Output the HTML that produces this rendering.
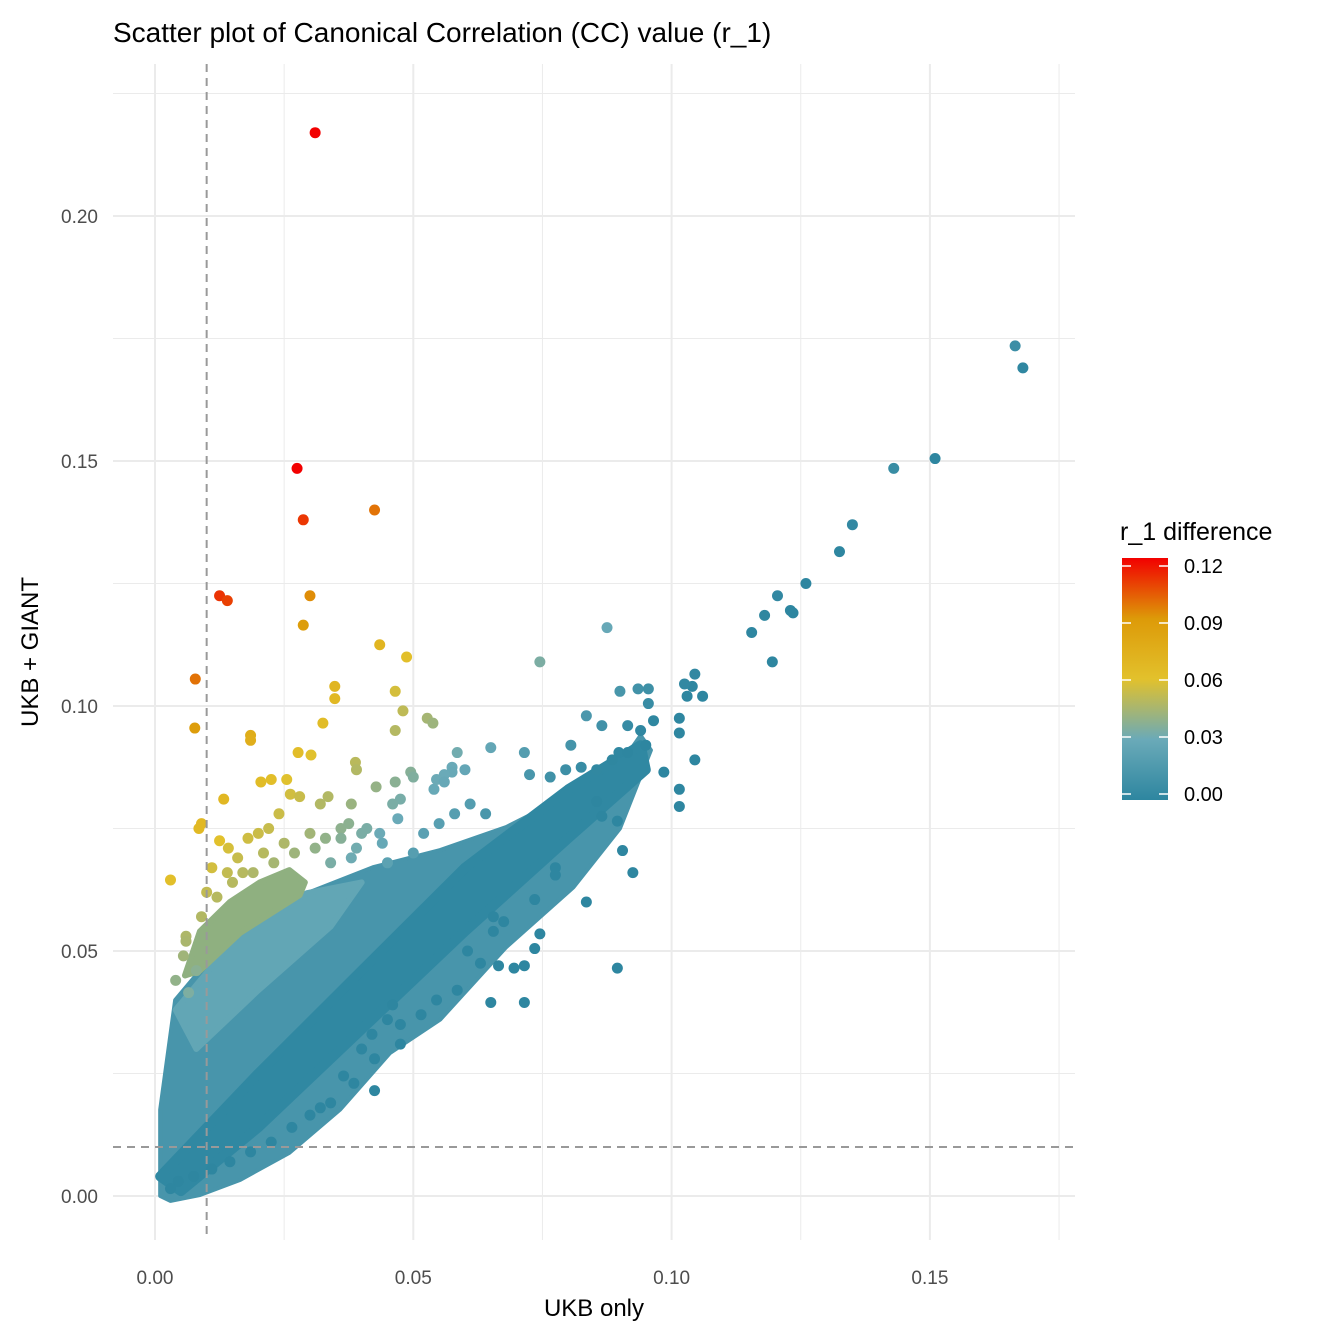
<!DOCTYPE html>
<html><head><meta charset="utf-8">
<style>
html,body{margin:0;padding:0;background:#fff;}
svg{display:block;font-family:"Liberation Sans",Arial,sans-serif;}
</style></head>
<body>
<svg id="chart" width="1338" height="1338" viewBox="0 0 1338 1338">
<defs>
<linearGradient id="cbar" x1="0" y1="1" x2="0" y2="0">
<stop offset="0" stop-color="#2e86a0"/>
<stop offset="0.25" stop-color="#6aaab8"/>
<stop offset="0.5" stop-color="#e2c12c"/>
<stop offset="0.75" stop-color="#dd9a08"/>
<stop offset="1" stop-color="#f20000"/>
</linearGradient>
</defs>
<text x="113" y="42" font-size="28" fill="#000">Scatter plot of Canonical Correlation (CC) value (r_1)</text>
<g id="grid"></g>
<g id="cloud"></g>
<g id="pts"></g>
<g id="ref"></g>
<g id="axes"></g>
<text x="594" y="1316" font-size="24" text-anchor="middle" fill="#000">UKB only</text>
<text x="0" y="0" font-size="24" text-anchor="middle" fill="#000" transform="translate(38,652) rotate(-90)">UKB + GIANT</text>
<g id="legend">
<text x="1120" y="540" font-size="25" fill="#000">r_1 difference</text>
<rect x="1122" y="558" width="46" height="242" fill="url(#cbar)"/>
</g>
</svg>
<script>
const xTicks=[0,0.05,0.10,0.15];
const xTickLabels=["0.00","0.05","0.10","0.15"];
const yTicks=[0,0.05,0.10,0.15,0.20];
const yTickLabels=["0.00","0.05","0.10","0.15","0.20"];
const legendTicks=[0,0.03,0.06,0.09,0.12];
const legendTickLabels=["0.00","0.03","0.06","0.09","0.12"];
const refX=0.01, refY=0.01;
const ptX=[0.031,0.0275,0.0287,0.0425,0.0125,0.014,0.030,0.0287,0.0078,0.0077,0.0435,0.0487,0.0348,0.0348,0.0465,0.048,0.0527,0.0538,0.0465,0.0325,0.0185,0.0185,0.0277,0.0302,0.0388,0.039,0.0205,0.0225,0.0255,0.0262,0.028,0.0335,0.032,0.0133,0.0465,0.0428,0.0085,0.009,0.003,0.011,0.0125,0.018,0.020,0.022,0.024,0.038,0.036,0.0142,0.016,0.017,0.006,0.0055,0.008,0.004,0.0065,0.0895,
0.1665,0.168,0.143,0.151,0.135,0.1325,0.126,0.1205,0.123,0.1235,0.118,0.1155,0.1195,0.0875,0.0745,0.1045,0.106,0.104,0.1025,0.103,0.090,0.0935,0.0955,0.0955,0.0965,0.1015,0.1015,0.1045,0.1015,0.1015,0.0985,0.0865,0.0915,0.094,0.0835,0.0805,0.095,0.0898,0.0915,0.0885,0.0855,0.0825,0.0795,0.0765,0.0715,0.0725,0.065,0.0575,0.0855,0.0865,0.0895,0.0905,0.0925,0.0775,0.0775,0.0835,0.0745,0.0735,0.0735,0.0715,0.0695,0.0665,0.065,0.0715,0.063,0.0605,0.0655,0.0655,0.0675,0.0585,0.0545,0.0515,0.0475,0.046,0.045,0.042,0.040,0.0425,0.0475,0.0365,0.0385,0.0425,0.034,0.030,0.032,0.0265,0.0225,0.0185,0.0145,0.011,0.0075,0.0045,0.003,
0.0585,0.060,0.0575,0.056,0.054,0.0495,0.0475,0.046,0.050,0.0545,0.0435,0.0375,0.040,0.056,
0.006,0.009,0.012,0.015,0.019,0.023,0.027,0.010,0.014,0.021,0.025,0.030,0.033,
0.036,0.039,0.041,0.044,0.047,0.045,0.050,0.038,0.052,0.055,0.058,0.061,0.064,0.034,0.031];
const ptY=[0.217,0.1485,0.138,0.140,0.1225,0.1215,0.1225,0.1165,0.1055,0.0955,0.1125,0.110,0.104,0.1015,0.103,0.099,0.0975,0.0965,0.095,0.0965,0.094,0.093,0.0905,0.090,0.0885,0.087,0.0845,0.085,0.085,0.082,0.0815,0.0815,0.080,0.081,0.0845,0.0835,0.075,0.076,0.0645,0.067,0.0725,0.073,0.074,0.075,0.078,0.080,0.075,0.071,0.069,0.066,0.053,0.049,0.046,0.044,0.0415,0.0465,
0.1735,0.169,0.1485,0.1505,0.137,0.1315,0.125,0.1225,0.1195,0.119,0.1185,0.115,0.109,0.116,0.109,0.1065,0.102,0.104,0.1045,0.102,0.103,0.1035,0.1035,0.1005,0.097,0.0975,0.0945,0.089,0.083,0.0795,0.0865,0.096,0.096,0.095,0.098,0.092,0.092,0.0905,0.0905,0.089,0.087,0.0875,0.087,0.0855,0.0905,0.086,0.0915,0.0875,0.0805,0.0775,0.0765,0.0705,0.066,0.067,0.0655,0.060,0.0535,0.0605,0.0505,0.047,0.0465,0.047,0.0395,0.0395,0.0475,0.050,0.054,0.057,0.056,0.042,0.040,0.037,0.035,0.039,0.036,0.033,0.030,0.028,0.031,0.0245,0.023,0.0215,0.019,0.0165,0.018,0.014,0.011,0.009,0.007,0.0055,0.004,0.003,0.0015,
0.0905,0.087,0.0865,0.086,0.083,0.0865,0.081,0.080,0.0855,0.085,0.074,0.076,0.074,0.0845,
0.052,0.057,0.061,0.064,0.066,0.068,0.070,0.062,0.066,0.070,0.072,0.074,0.073,
0.073,0.071,0.075,0.072,0.077,0.068,0.070,0.069,0.074,0.076,0.078,0.080,0.078,0.068,0.071];
const lightCloudX=[0.001,0.001,0.0039,0.0087,0.0165,0.0294,0.0422,0.0552,0.068,0.081,0.090,0.094,0.096,0.090,0.081,0.068,0.0552,0.0455,0.0358,0.026,0.0165,0.0087,0.003];
const lightCloudY=[0.000,0.0176,0.040,0.046,0.0537,0.0618,0.0671,0.0706,0.0753,0.0822,0.088,0.094,0.091,0.075,0.063,0.0508,0.036,0.0292,0.0176,0.0088,0.0033,0.0002,-0.001];
const palePatchX=[0.004,0.0165,0.0294,0.040,0.034,0.020,0.008];
const palePatchY=[0.038,0.0537,0.0618,0.064,0.055,0.042,0.030];
const greenPatchX=[0.0058,0.0087,0.0145,0.0203,0.026,0.029,0.028,0.0165,0.0087];
const greenPatchY=[0.045,0.054,0.060,0.064,0.0665,0.064,0.0614,0.0537,0.046];
const darkBandX=[0.001,0.02,0.04,0.06,0.08,0.094,0.095,0.08,0.06,0.04,0.02,0.005];
const darkBandY=[0.004,0.025,0.046,0.067,0.083,0.092,0.087,0.073,0.054,0.034,0.014,0.001];

const NS="http://www.w3.org/2000/svg";
const X0=155, XS=5166, Y0=1196, YS=4900;
const PL=113, PR=1075, PT=64, PB=1240;
function sx(v){return X0+v*XS;}
function sy(v){return Y0-v*YS;}
function ly(v){return 794-v*(228/0.12);}
function mk(tag,attrs,parent){const e=document.createElementNS(NS,tag);for(const k in attrs)e.setAttribute(k,attrs[k]);parent.appendChild(e);return e;}
const stops=[[0,[46,134,160]],[0.03,[106,170,184]],[0.06,[226,193,44]],[0.09,[221,154,8]],[0.12,[242,0,0]]];
function col(d){d=Math.max(0,Math.min(0.12,d));for(let i=0;i<stops.length-1;i++){const a=stops[i],b=stops[i+1];if(d<=b[0]){const t=(d-a[0])/(b[0]-a[0]);const c=a[1].map((v,j)=>Math.round(v+(b[1][j]-v)*t));return `rgb(${c[0]},${c[1]},${c[2]})`;}}return "rgb(242,0,0)";}

const grid=document.getElementById('grid');
xTicks.forEach((v,i)=>{
  let l=mk('line',{x1:sx(v),x2:sx(v),y1:PT,y2:PB,stroke:'#ebebeb','stroke-width':2},grid);
  
  
  let m=mk('line',{x1:sx(v+0.025),x2:sx(v+0.025),y1:PT,y2:PB,stroke:'#ebebeb','stroke-width':1},grid);
  
  
});
yTicks.forEach((v,i)=>{
  let l=mk('line',{x1:PL,x2:PR,y1:sy(v),y2:sy(v),stroke:'#ebebeb','stroke-width':2},grid);
  
  
  let m=mk('line',{x1:PL,x2:PR,y1:sy(v+0.025),y2:sy(v+0.025),stroke:'#ebebeb','stroke-width':1},grid);
  
  
});
const cloud=document.getElementById('cloud');
function poly(xs,ys,c,name,sw){
  const p=xs.map((x,i)=>sx(x)+','+sy(ys[i])).join(' ');
  const e=mk('polygon',{points:p,fill:c,stroke:c,'stroke-width':sw,'stroke-linejoin':'round'},cloud);
  
  
}
poly(lightCloudX,lightCloudY,'#4895ab','light-cloud',4);
poly(palePatchX,palePatchY,'#62a6b5','pale-patch',6);
poly(greenPatchX,greenPatchY,'#8fb080','green-patch',6);
poly(darkBandX,darkBandY,'#3088a2','dark-band',10);
const pts=document.getElementById('pts');
ptX.forEach((x,i)=>{
  const c=mk('circle',{cx:sx(x),cy:sy(ptY[i]),r:5.5,fill:col(ptY[i]-x)},pts);
  
  
});
const ref=document.getElementById('ref');
let v=mk('line',{x1:sx(refX),x2:sx(refX),y1:PT,y2:PB,stroke:'#999','stroke-width':2,'stroke-dasharray':'8,6'},ref);


let h=mk('line',{x1:PL,x2:PR,y1:sy(refY),y2:sy(refY),stroke:'#999','stroke-width':2,'stroke-dasharray':'8,6'},ref);


const axes=document.getElementById('axes');
xTicks.forEach((v,i)=>{
  const t=mk('text',{x:sx(v),y:1284,'font-size':19,'text-anchor':'middle',fill:'#4d4d4d'},axes);
  t.textContent=xTickLabels[i];
  
  
});
yTicks.forEach((v,i)=>{
  const t=mk('text',{x:98,y:sy(v)+7,'font-size':19,'text-anchor':'end',fill:'#4d4d4d'},axes);
  t.textContent=yTickLabels[i];
  
  
});
const leg=document.getElementById('legend');
legendTicks.forEach((v,i)=>{
  const a=mk('line',{x1:1122,x2:1131,y1:ly(v),y2:ly(v),stroke:'#fff','stroke-width':1.5},leg);
  
  
  const b=mk('line',{x1:1159,x2:1168,y1:ly(v),y2:ly(v),stroke:'#fff','stroke-width':1.5},leg);
  
  
  const t=mk('text',{x:1184,y:ly(v)+7,'font-size':20,fill:'#000'},leg);
  t.textContent=legendTickLabels[i];
  
  
});
</script>
</body></html>
